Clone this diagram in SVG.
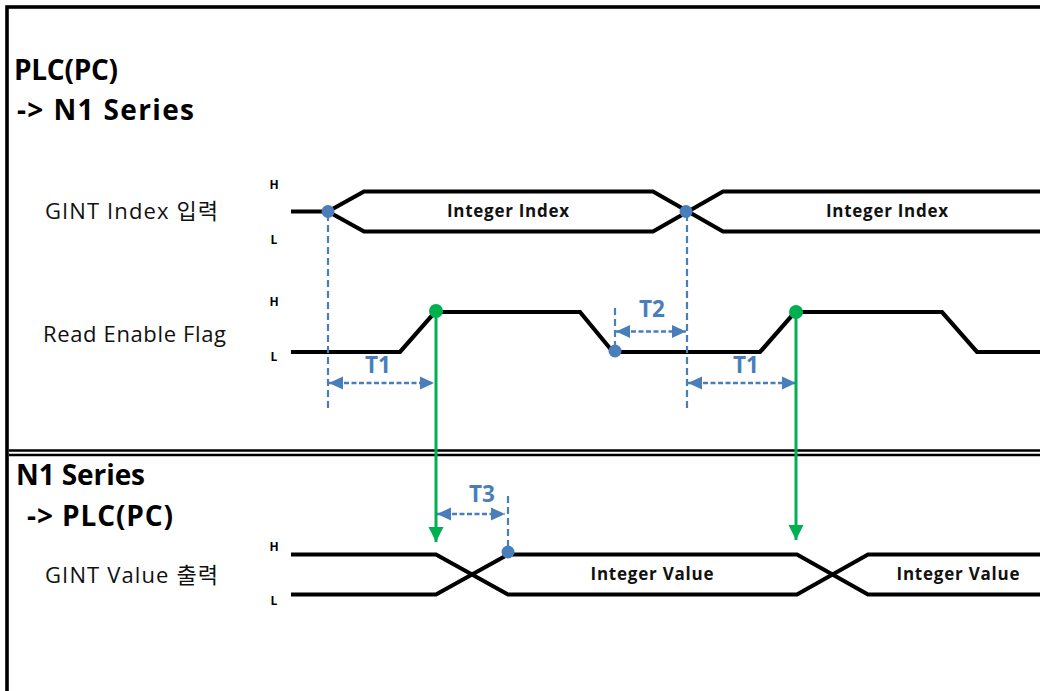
<svg xmlns="http://www.w3.org/2000/svg" width="1040" height="691" viewBox="0 0 1040 691">
<style>
.head{font-family:"Open Sans","Noto Sans CJK KR",sans-serif;font-weight:bold;font-size:28px;fill:#000}
.lbl{font-family:"Open Sans","Noto Sans CJK KR",sans-serif;font-size:22px;fill:#111}
.hl{font-family:"Open Sans",sans-serif;font-weight:bold;font-size:12px;fill:#000;text-anchor:middle}
.val{font-family:"Open Sans",sans-serif;font-weight:bold;font-size:17px;fill:#111;text-anchor:middle}
.tt{font-family:"Open Sans",sans-serif;font-weight:bold;font-size:22.5px;fill:#4a7ebb;text-anchor:middle}
.sig{fill:none;stroke:#000;stroke-width:4.2;stroke-linejoin:miter}
.vdash{fill:none;stroke:#4a7ebb;stroke-width:2.2;stroke-dasharray:7 4}
.tarrow{fill:none;stroke:#4a7ebb;stroke-width:2.5;stroke-dasharray:5 2.5;marker-start:url(#ba);marker-end:url(#ba)}
.garrow{fill:none;stroke:#00b050;stroke-width:3;marker-end:url(#ga)}
.bdot{fill:#4a7ebb}
.gdot{fill:#00b050}
</style>
<defs>
<marker id="ba" markerUnits="userSpaceOnUse" markerWidth="15" markerHeight="14" refX="14" refY="7" orient="auto-start-reverse" viewBox="0 0 15 14">
<path d="M0,0.5 L14,7 L0,13.5 z" fill="#4a7ebb"/>
</marker>
<marker id="ga" markerUnits="userSpaceOnUse" markerWidth="16" markerHeight="16" refX="15" refY="7.5" orient="auto" viewBox="0 0 16 16">
<path d="M0,0 L15,7.5 L0,15 z" fill="#00b050"/>
</marker>
</defs>
<rect x="0" y="0" width="1040" height="691" fill="#fff"/>
<g id="frame">
<rect x="7" y="7" width="1045" height="700" fill="none" stroke="#000" stroke-width="3.6"/>
<line x1="9" y1="450.5" x2="1040" y2="450.5" stroke="#000" stroke-width="2.3"/>
<line x1="9" y1="455" x2="1040" y2="455" stroke="#000" stroke-width="2.3"/>
</g>
<g id="section-plc-to-n1">
<text class="head" x="14" y="80" textLength="104">PLC(PC)</text>
<text class="head" x="17" y="120" textLength="177">-&gt; N1 Series</text>
</g>
<g id="section-n1-to-plc">
<text class="head" x="16" y="485" textLength="129">N1 Series</text>
<text class="head" x="27" y="526" textLength="146">-&gt; PLC(PC)</text>
</g>
<g id="signal-gint-index">
<text class="lbl" x="45" y="219" textLength="173">GINT Index 입력</text>
<text class="hl" x="274" y="189">H</text>
<text class="hl" x="274" y="244">L</text>
<path class="sig" d="M291,211.5 H328 L364,191.5 H653 L723,231.5 H1045"/>
<path class="sig" d="M328,211.5 L364,231.5 H653 L723,191.5 H1045"/>
<text class="val" x="508" y="217" textLength="122">Integer Index</text>
<text class="val" x="887" y="217" textLength="122">Integer Index</text>
</g>
<g id="signal-read-enable">
<text class="lbl" x="43" y="342" textLength="183">Read Enable Flag</text>
<text class="hl" x="274" y="306">H</text>
<text class="hl" x="274" y="361">L</text>
<path class="sig" d="M291,352 H400 L435,312 H580 L613,352 H760 L795,312 H942 L977,352 H1045"/>
</g>
<g id="signal-gint-value">
<text class="lbl" x="45" y="583" textLength="173">GINT Value 출력</text>
<text class="hl" x="274" y="551">H</text>
<text class="hl" x="274" y="605">L</text>
<path class="sig" d="M291,554.5 H436 L508,594.5 H797 L868,554.5 H1045"/>
<path class="sig" d="M291,594.5 H436 L508,554.5 H797 L868,594.5 H1045"/>
<text class="val" x="652" y="580" textLength="123">Integer Value</text>
<text class="val" x="958" y="580" textLength="123">Integer Value</text>
</g>
<g id="connectors">
<line class="vdash" x1="328" y1="214" x2="328" y2="410"/>
<line class="vdash" x1="687" y1="214" x2="687" y2="410"/>
<line class="vdash" x1="615" y1="308" x2="615" y2="346"/>
<line class="vdash" x1="508" y1="496" x2="508" y2="548"/>
<line class="tarrow" x1="329" y1="383" x2="434" y2="383"/>
<line class="tarrow" x1="616" y1="331.5" x2="686" y2="331.5"/>
<line class="tarrow" x1="688" y1="383" x2="796" y2="383"/>
<line class="tarrow" x1="437" y1="514" x2="505" y2="514"/>
<line class="garrow" x1="436" y1="311" x2="436" y2="542"/>
<line class="garrow" x1="796" y1="312" x2="796" y2="540"/>
<circle class="bdot" cx="328" cy="211.5" r="6.5"/>
<circle class="bdot" cx="686" cy="211.5" r="6.5"/>
<circle class="bdot" cx="615" cy="351" r="6.5"/>
<circle class="bdot" cx="508" cy="552" r="6.5"/>
<circle class="gdot" cx="436" cy="311" r="7"/>
<circle class="gdot" cx="796" cy="312" r="7"/>
<text class="tt" x="378" y="373">T1</text>
<text class="tt" x="652" y="317">T2</text>
<text class="tt" x="746" y="373">T1</text>
<text class="tt" x="482" y="502">T3</text>
</g>
</svg>
